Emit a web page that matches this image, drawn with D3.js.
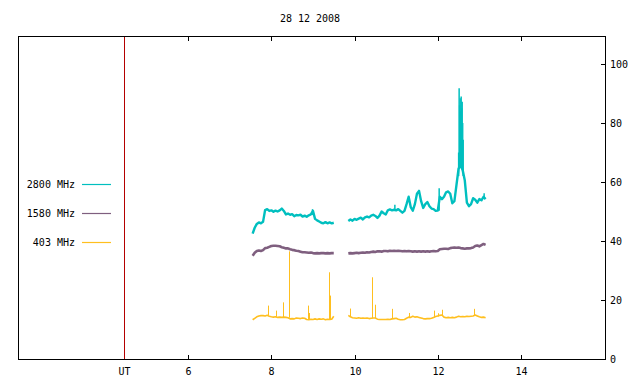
<!DOCTYPE html>
<html><head><meta charset="utf-8">
<script src="https://cdn.jsdelivr.net/npm/d3@7"></script>
<style>
body{margin:0;background:#fff;}
svg{display:block;}
text{font-family:"DejaVu Sans Mono",monospace;font-size:10px;fill:#000;}
</style></head>
<body><svg id="c" width="640" height="384"></svg>
<script>
// ---- data ----
const title = "28 12 2008";
const seriesNames = ["2800 MHz", "1580 MHz", "403 MHz"];
const seriesColors = ["#00bfbf", "#7f5f7f", "#ffbf1f"];
const xTicks = [6, 8, 10, 12, 14];
const yTicks = [0, 20, 40, 60, 80, 100];
const utMark = 4.45;
// sampling: segment A from 7.55 h, segment B from 9.85 h, step 0.05 h
const segAStart = 7.55, segBStart = 9.85, stepH = 0.05;

const f2800A = [42.5,44.5,45.8,46.3,46.0,46.5,50.5,50.8,50.2,50.4,49.9,50.3,50.0,50.4,51.0,50.2,49.0,49.3,48.9,49.1,
  48.4,48.8,48.7,48.9,48.3,48.6,48.2,48.7,49.0,50.2,47.5,47.0,46.6,46.2,46.0,46.4,46.0,46.3,46.0,46.2];
const f2800B = [46.8,47.3,46.9,47.5,47.2,47.6,47.9,47.3,48.0,48.3,48.0,48.6,48.9,48.5,47.8,48.6,50.0,49.4,49.0,50.4,
  50.7,50.4,50.6,50.4,50.8,50.2,49.6,50.2,52.5,55.0,51.5,50.3,52.5,56.0,57.0,53.5,51.2,52.5,53.2,51.8,
  51.0,50.8,50.2,50.3,55.0,54.2,55.0,56.5,56.8,56.0,52.8,53.5,59.0,64.5,66.0,64.0,60.5,53.0,51.8,52.5,
  54.5,54.0,53.0,54.2,53.8,55.0,54.2];
const f1580A = [35.0,36.0,36.6,36.8,36.6,36.9,37.6,37.7,38.0,38.3,38.4,38.4,38.3,38.2,37.9,37.7,37.5,37.5,37.2,37.0,
  36.9,36.7,36.6,36.4,36.2,36.2,36.1,36.0,36.1,35.9,35.8,35.9,35.8,35.9,35.9,35.8,35.9,35.8,35.9,35.9];
const f1580B = [35.8,35.9,35.8,35.9,36.0,35.9,36.0,36.1,36.0,36.2,36.1,36.3,36.4,36.3,36.5,36.5,36.4,36.6,36.6,36.5,
  36.7,36.6,36.7,36.6,36.7,36.6,36.5,36.6,36.5,36.6,36.5,36.4,36.5,36.4,36.5,36.4,36.5,36.4,36.5,36.4,
  36.5,36.6,36.5,36.6,37.2,37.3,37.4,37.4,37.3,37.6,37.7,37.8,37.7,37.8,37.6,37.5,37.4,37.5,37.5,37.6,
  37.8,38.3,38.5,38.2,38.6,39.0,38.7];
const f403A = [13.3,13.8,14.3,14.6,14.7,14.7,14.6,14.8,14.5,14.3,14.2,14.3,14.1,14.2,14.1,14.2,14.1,14.0,13.6,13.7,
  13.6,13.9,13.8,13.7,13.9,13.8,13.4,13.3,13.5,13.4,13.6,13.4,13.6,13.5,13.6,13.3,13.5,13.4,13.5,14.5];
const f403B = [14.8,14.3,14.0,13.9,13.8,14.0,13.8,13.9,13.8,13.9,13.7,13.8,13.9,13.9,13.5,13.4,13.4,13.4,13.4,13.5,
  13.4,13.6,13.7,13.8,13.5,13.3,13.3,13.4,13.8,14.2,14.1,14.5,14.2,14.3,14.1,13.9,13.7,13.6,13.7,13.7,
  13.8,14.1,14.4,14.6,14.8,14.9,14.2,14.0,14.1,14.0,14.1,14.0,14.2,14.5,14.3,14.4,14.3,14.5,14.4,14.5,
  14.6,14.9,14.6,14.3,14.1,14.2,14.0];
// short bursts: [time h, low, high]
const spikes2800 = [[8.990,48.8,50.8],[10.969,50.4,52.3],[12.034,50.3,57.9],[12.502,62.0,70.0],[12.514,64.5,91.8],[12.526,64.5,86.0],
  [12.538,65.0,88.4],[12.550,65.0,84.0],[12.563,65.0,89.0],[12.575,64.5,85.0],[12.587,64.0,87.2],[12.599,63.0,80.0],[12.611,62.0,74.3],[13.115,54.5,56.2]];
const spikes403 = [[7.923,14.7,18.1],[8.101,14.3,16.4],[8.284,14.2,19.2],[8.428,14.0,36.5],[8.885,13.3,18.1],
  [8.909,13.3,15.6],[9.389,13.4,29.4],[9.406,13.4,21.5],[9.894,14.3,17.1],[10.409,13.8,27.7],[10.488,13.9,18.4],
  [10.904,13.6,17.0],[11.305,14.2,15.6],[11.913,14.1,16.4],[12.002,14.4,15.5],[12.106,14.9,16.7],[12.875,14.6,17.0]];

// ---- chart ----
const svg = d3.select("#c");
const L = 18, R = 605, T = 36, B = 359;
const x = d3.scaleLinear().domain([1.91, 16.02]).range([L, R]);
const y = d3.scaleLinear().domain([0, 109.5]).range([B, T]);

const toPts = (start, arr) => arr.map((v, i) => [start + i * stepH, v]);
const series = [
  [toPts(segAStart, f2800A), toPts(segBStart, f2800B)],
  [toPts(segAStart, f1580A), toPts(segBStart, f1580B)],
  [toPts(segAStart, f403A), toPts(segBStart, f403B)]
];
const widths = [2.4, 2.6, 1.6];

const line = d3.line().x(d => x(d[0])).y(d => y(d[1]));

// UT marker
svg.append("line").attr("x1", Math.round(x(utMark)) + 0.5).attr("x2", Math.round(x(utMark)) + 0.5)
  .attr("y1", T).attr("y2", B).attr("stroke", "#b40000").attr("stroke-width", 1).attr("shape-rendering", "crispEdges");

[0, 1, 2].forEach(k => {
  series[k].forEach(seg => {
    svg.append("path").datum(seg).attr("d", line).attr("fill", "none")
      .attr("stroke", seriesColors[k]).attr("stroke-width", widths[k]).attr("stroke-linejoin", "round");
  });
});
svg.selectAll(".s28").data(spikes2800).join("line")
  .attr("x1", d => x(d[0])).attr("x2", d => x(d[0])).attr("y1", d => y(d[1])).attr("y2", d => y(d[2]))
  .attr("stroke", seriesColors[0]).attr("stroke-width", 1.5);
svg.selectAll(".s4").data(spikes403).join("line")
  .attr("x1", d => Math.round(x(d[0])) + 0.5).attr("x2", d => Math.round(x(d[0])) + 0.5).attr("y1", d => y(d[1])).attr("y2", d => y(d[2]))
  .attr("stroke", seriesColors[2]).attr("stroke-width", 1);

// frame
svg.append("rect").attr("x", L + 0.5).attr("y", T + 0.5).attr("width", R - L).attr("height", B - T)
  .attr("fill", "none").attr("stroke", "#000").attr("stroke-width", 1).attr("shape-rendering", "crispEdges");

// x ticks (bottom & top, inward)
const xa = svg.append("g").attr("shape-rendering", "crispEdges");
xTicks.forEach(t => {
  const px = Math.round(x(t)) + 0.5;
  xa.append("line").attr("x1", px).attr("x2", px).attr("y1", B).attr("y2", B - 4).attr("stroke", "#000");
  xa.append("line").attr("x1", px).attr("x2", px).attr("y1", T + 1).attr("y2", T + 5).attr("stroke", "#000");
  svg.append("text").attr("x", px).attr("y", 375).attr("text-anchor", "middle").text(t);
});
svg.append("text").attr("x", Math.round(x(utMark)) + 0.5).attr("y", 375).attr("text-anchor", "middle").text("UT");

// y ticks (right, inward)
yTicks.forEach(v => {
  const py = Math.round(y(v)) + 0.5;
  xa.append("line").attr("x1", R - 4).attr("x2", R).attr("y1", py).attr("y2", py).attr("stroke", "#000");
  svg.append("text").attr("x", 610).attr("y", py).attr("dy", "0.35em").text(v);
});

// title
svg.append("text").attr("x", 310).attr("y", 22).attr("text-anchor", "middle").text(title);

// legend
seriesNames.forEach((n, k) => {
  const ly = 184.5 + k * 29;
  svg.append("text").attr("x", 75).attr("y", ly).attr("dy", "0.35em").attr("text-anchor", "end").text(n);
  svg.append("line").attr("x1", 82).attr("x2", 111).attr("y1", ly).attr("y2", ly)
    .attr("stroke", seriesColors[k]).attr("stroke-width", 1.2);
});
</script></body></html>
